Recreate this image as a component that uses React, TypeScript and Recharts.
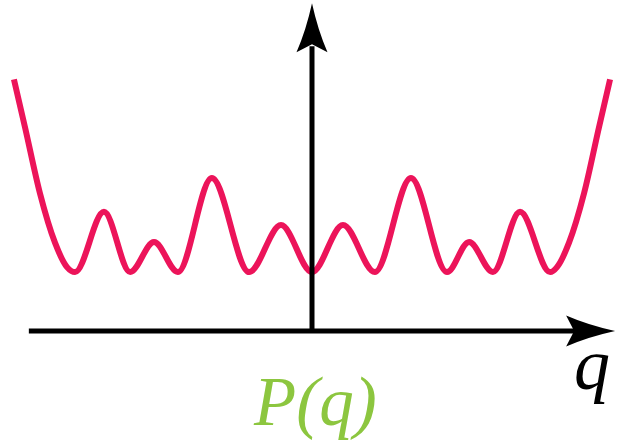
import React from "react";
import { LineChart, Line, XAxis, YAxis, ReferenceLine } from "recharts";

// Sample positions q and the potential P(q) at each position
const qValues = [
  -10, -9.63, -9.13, -8.62, -8.22, -7.95, -6.98, -6.1, -5.3, -4.5, -3.36, -2.11, -1.04, 0,
  1.04, 2.11, 3.32, 4.53, 5.27, 6.07, 6.98, 7.99, 8.22, 8.62, 9.13, 9.63, 10,
];
const pValues = [
  7.6, 6.16, 4.17, 2.66, 1.93, 1.78, 3.6, 1.78, 2.69, 1.78, 4.62, 1.78, 3.2, 1.78,
  3.2, 1.78, 4.62, 1.78, 2.69, 1.78, 3.6, 1.78, 1.93, 2.66, 4.17, 6.16, 7.6,
];

// Axis extents in data units
const horizontalAxis = { from: -9.5, to: 10.17 };
const verticalAxis = { from: 0, to: 9.9 };

const xLabel = "q";
const yLabel = "P(q)";

const data = qValues.map((q, i) => ({ q, p: pValues[i] }));

const CURVE = "#EC145A";
const LABEL_GREEN = "#8CC63F";

if (typeof document !== "undefined") {
  document.body.style.margin = "0";
}

// Arrow-tipped axis line; the head is drawn at the (x2, y2) end.
function arrowPath(x1: number, y1: number, x2: number, y2: number) {
  const dx = x2 - x1;
  const dy = y2 - y1;
  const len = Math.hypot(dx, dy) || 1;
  const ux = dx / len;
  const uy = dy / len;
  const px = -uy;
  const py = ux;
  const headLen = 49;
  const notch = 41;
  const half = 15.5;
  const bx = x2 - ux * headLen;
  const by = y2 - uy * headLen;
  const nx = x2 - ux * notch;
  const ny = y2 - uy * notch;
  const c1x = x2 - ux * headLen * 0.55 + px * half * 0.38;
  const c1y = y2 - uy * headLen * 0.55 + py * half * 0.38;
  const c2x = x2 - ux * headLen * 0.55 - px * half * 0.38;
  const c2y = y2 - uy * headLen * 0.55 - py * half * 0.38;
  return {
    shaftEnd: { x: nx, y: ny },
    head: `M${x2},${y2} Q${c1x},${c1y} ${bx + px * half},${by + py * half} L${nx},${ny} L${bx - px * half},${by - py * half} Q${c2x},${c2y} ${x2},${y2} Z`,
  };
}

const HorizontalAxisShape = (props: any) => {
  const { x1, y1, x2, y2 } = props;
  const a = arrowPath(x1, y1, x2, y2);
  return (
    <g>
      <line x1={x1} y1={y1} x2={a.shaftEnd.x + 2} y2={a.shaftEnd.y} stroke="#000" strokeWidth={5} />
      <path d={a.head} fill="#000" />
    </g>
  );
};

const VerticalAxisShape = (props: any) => {
  const { x1, y1, x2, y2 } = props;
  const a = arrowPath(x1, y1, x2, y2);
  return (
    <g>
      <line x1={x1} y1={y1} x2={a.shaftEnd.x} y2={a.shaftEnd.y + 2} stroke="#000" strokeWidth={5} />
      <path d={a.head} fill="#000" />
    </g>
  );
};

export default function App() {
  return (
    <div>
      <LineChart width={619} height={442} data={data} margin={{ top: 0, right: 0, bottom: 111, left: 5 }}>
        <XAxis type="number" dataKey="q" domain={[-10.3, 10.3]} hide allowDataOverflow />
        <YAxis type="number" domain={[0, 10]} hide allowDataOverflow />
        <Line
          type="monotone"
          dataKey="p"
          stroke={CURVE}
          strokeWidth={6}
          dot={false}
          activeDot={false}
          isAnimationActive={false}
        />
        <ReferenceLine
          segment={[
            { x: horizontalAxis.from, y: 0 },
            { x: horizontalAxis.to, y: 0 },
          ]}
          ifOverflow="visible"
          shape={HorizontalAxisShape}
        />
        <ReferenceLine
          segment={[
            { x: 0, y: verticalAxis.from },
            { x: 0, y: verticalAxis.to },
          ]}
          ifOverflow="visible"
          shape={VerticalAxisShape}
        />
        <text x={574} y={389} style={{ fontFamily: "Liberation Serif", fontStyle: "italic", fontSize: 72 }} fill="#000">
          {xLabel}
        </text>
        <text x={254} y={425} style={{ fontFamily: "Liberation Serif", fontStyle: "italic", fontSize: 69 }} fill={LABEL_GREEN}>
          {yLabel}
        </text>
      </LineChart>
    </div>
  );
}
